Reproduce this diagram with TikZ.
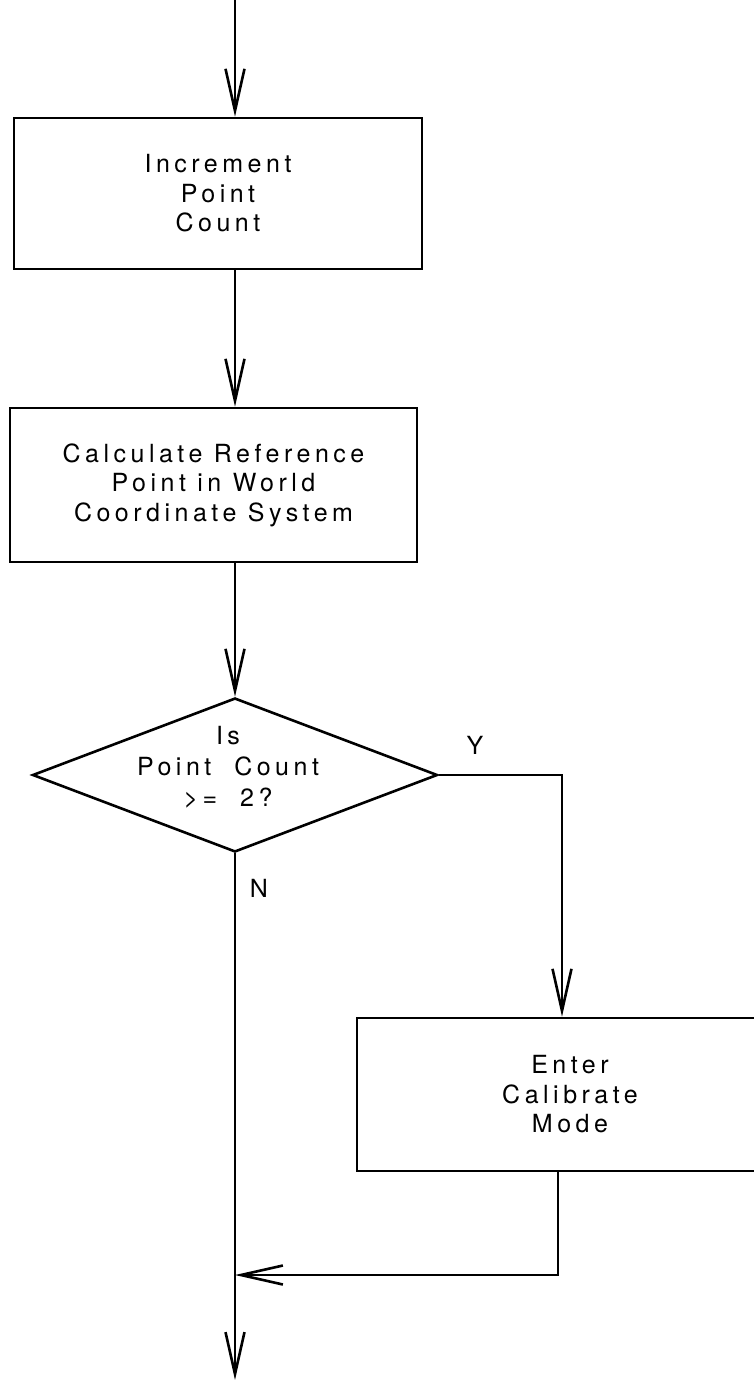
\documentclass[tikz,border=0pt]{standalone}
\usepackage{fontspec}
\setmainfont{TeX Gyre Heros}[LetterSpace=18]
\usetikzlibrary{arrows.meta,shapes.geometric}
\tikzset{
  ln/.style={line width=2.6pt},
  arr/.style={ln,-{Straight Barb[length=42pt,width=19pt]}},
  stepbox/.style={draw,ln,rectangle,inner sep=0pt,align=center,
    font=\fontsize{25}{29.5}\selectfont},
  lbl/.style={inner sep=0pt,align=center,font=\fontsize{25}{31}\selectfont},
  dec/.style={draw,ln,shape=diamond,inner sep=0pt,minimum width=405pt,minimum height=154pt}
}
\begin{document}
\begin{tikzpicture}[x=1pt,y=-1pt]
\useasboundingbox (0,0) rectangle (754,1380);
\clip (0,0) rectangle (754,1380);
\coordinate (top) at (235,0);
\node[stepbox,minimum width=408pt,minimum height=151pt] (b1) at (218,193.5)
  {Increment\\Point\\Count};
\node[stepbox,minimum width=407pt,minimum height=154pt] (b2) at (213.5,485)
  {Calculate Reference\\Point in World\\Coordinate System};
\node[dec] (d) at (235,775) {};
\node[lbl] (dt) at (228,767) {Is\\Point\ \ Count\\>=\ \ 2?};
\node[stepbox,minimum width=426pt,minimum height=153pt] (b3) at (570,1094.5)
  {Enter\\Calibrate\\Mode};
\coordinate (yc) at (562,775);
\coordinate (rc) at (558,1275);
\coordinate (bot) at (235,1380);
\node[lbl] (ylab) at (475,745) {Y};
\node[lbl] (nlab) at (259,888) {N};
\draw[arr] (top) -- (top |- b1.north);
\draw[arr] (b1.south -| top) -- (b2.north -| top);
\draw[arr] (b2.south -| top) -- (d.north);
\draw[arr] (d.east) -- (yc) -- (yc |- b3.north);
\draw[arr] (d.south) -- (bot);
\draw[arr] (rc |- b3.south) -- (rc) -- (rc -| d.south);
\end{tikzpicture}
\end{document}
